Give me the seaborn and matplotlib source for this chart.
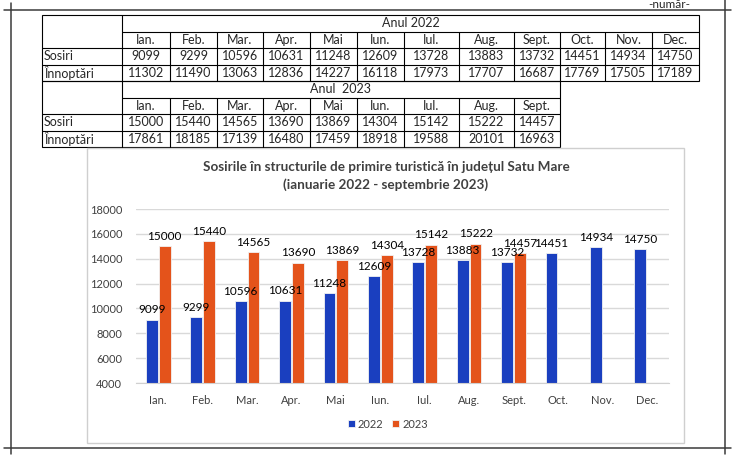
import matplotlib
matplotlib.use("Agg")
import matplotlib.pyplot as plt
import pandas as pd
import seaborn as sns
from matplotlib.patches import Rectangle

# date din tabel
luni = ['Ian.', 'Feb.', 'Mar.', 'Apr.', 'Mai', 'Iun.', 'Iul.', 'Aug.', 'Sept.', 'Oct.', 'Nov.', 'Dec.']
sosiri_2022 = [9099, 9299, 10596, 10631, 11248, 12609, 13728, 13883, 13732, 14451, 14934, 14750]
innoptari_2022 = [11302, 11490, 13063, 12836, 14227, 16118, 17973, 17707, 16687, 17769, 17505, 17189]
sosiri_2023 = [15000, 15440, 14565, 13690, 13869, 14304, 15142, 15222, 14457]
innoptari_2023 = [17861, 18185, 17139, 16480, 17459, 18918, 19588, 20101, 16963]
ani = ['2022', '2023']
culori = ['#1a3fbf', '#e4531b']
titlu1 = 'Sosirile în structurile de primire turistică în județul Satu Mare'
titlu2 = '(ianuarie 2022 - septembrie 2023)'

rows = []
for i, v in enumerate(sosiri_2022):
    rows.append({'luna': luni[i], 'an': '2022', 'sosiri': v})
for i, v in enumerate(sosiri_2023):
    rows.append({'luna': luni[i], 'an': '2023', 'sosiri': v})
df = pd.DataFrame(rows)

sns.set_style("white")
plt.rcParams['font.family'] = ['Lato', 'DejaVu Sans']

W, H = 735, 459
fig = plt.figure(figsize=(7.35, 4.59), dpi=100)

# fundal in coordonate pixel
bg = fig.add_axes([0, 0, 1, 1])
bg.set_xlim(0, W)
bg.set_ylim(H, 0)
bg.axis('off')

# cadrul paginii
k = '#3a3a3a'
bg.plot([4, 731], [10, 10], color=k, lw=1.1)
bg.plot([4, 731], [448, 448], color=k, lw=1.1)
bg.plot([11, 11], [3, 454], color=k, lw=1.1)
bg.plot([725, 725], [0, 454], color=k, lw=1.1)
bg.text(690, 4, '-număr-', ha='right', va='center', fontsize=8.5)

# tabelul
cols = [122, 170, 217, 263, 310, 357, 404, 459, 514, 560, 605, 652, 699]
x0 = 42
lw = 0.8
fs = 9


def bloc(y, n, an, sos, inn):
    xr = cols[n]
    ys = [y, y + 16.5, y + 33, y + 49.5, y + 66]
    bg.add_patch(Rectangle((x0, ys[0]), xr - x0, ys[4] - ys[0], fill=False, ec='black', lw=lw))
    bg.plot([cols[0], xr], [ys[1], ys[1]], color='black', lw=lw)
    bg.plot([x0, xr], [ys[2], ys[2]], color='black', lw=lw)
    bg.plot([x0, xr], [ys[3], ys[3]], color='black', lw=lw)
    bg.plot([cols[0], cols[0]], [ys[0], ys[4]], color='black', lw=lw)
    for c in cols[1:n]:
        bg.plot([c, c], [ys[1], ys[4]], color='black', lw=lw)
    bg.text((cols[0] + xr) / 2, (ys[0] + ys[1]) / 2, an, ha='center', va='center', fontsize=fs)
    bg.text(x0 + 2, (ys[2] + ys[3]) / 2, 'Sosiri', ha='left', va='center', fontsize=fs)
    bg.text(x0 + 2, (ys[3] + ys[4]) / 2, 'Înnoptări', ha='left', va='center', fontsize=fs)
    for j in range(n):
        cx = (cols[j] + cols[j + 1]) / 2
        bg.text(cx, (ys[1] + ys[2]) / 2, luni[j], ha='center', va='center', fontsize=fs)
        bg.text(cx, (ys[2] + ys[3]) / 2, str(sos[j]), ha='center', va='center', fontsize=fs)
        bg.text(cx, (ys[3] + ys[4]) / 2, str(inn[j]), ha='center', va='center', fontsize=fs)


bloc(15, 12, 'Anul 2022', sosiri_2022, innoptari_2022)
bloc(81, 9, 'Anul  2023', sosiri_2023, innoptari_2023)

# caseta graficului
bg.add_patch(Rectangle((87, 148), 684 - 87, 443 - 148, fc='white', ec='#cfcfcf', lw=1))
bg.text(386, 167, titlu1, ha='center', va='center', fontsize=9.7, fontweight='bold', color='#404040')
bg.text(386, 185, titlu2, ha='center', va='center', fontsize=9.7, fontweight='bold', color='#404040')

# graficul
ax = fig.add_axes([136 / W, 1 - 383 / H, (669 - 136) / W, (383 - 209) / H])
sns.barplot(data=df, x='luna', y='sosiri', hue='an', order=luni, hue_order=ani,
            palette=culori, saturation=1, width=0.58, gap=0.08, edgecolor='#f2f2f2',
            linewidth=0.6, ax=ax)
ax.set_ylim(4000, 18000)
ax.set_yticks(range(4000, 18001, 2000))
ax.yaxis.grid(True, color='#d9d9d9', lw=1)
ax.set_axisbelow(True)
for s in ['top', 'right', 'left']:
    ax.spines[s].set_visible(False)
ax.spines['bottom'].set_color('#d0d0d0')
ax.tick_params(axis='both', length=0, labelsize=8, colors='#404040')
ax.tick_params(axis='x', pad=9)
ax.tick_params(axis='y', pad=10)
ax.set_xlabel('')
ax.set_ylabel('')
ax.set_facecolor('none')
for cont in ax.containers:
    ax.bar_label(cont, fontsize=8.5, padding=3, color='black')

ax.legend(loc='center', bbox_to_anchor=(388 / W, 1 - 424 / H), bbox_transform=fig.transFigure,
          ncol=2, frameon=False, fontsize=8, handlelength=0.6, handleheight=0.6,
          handletextpad=0.3, columnspacing=0.8, labelcolor='#404040')

fig.savefig('out.png', dpi=100)
